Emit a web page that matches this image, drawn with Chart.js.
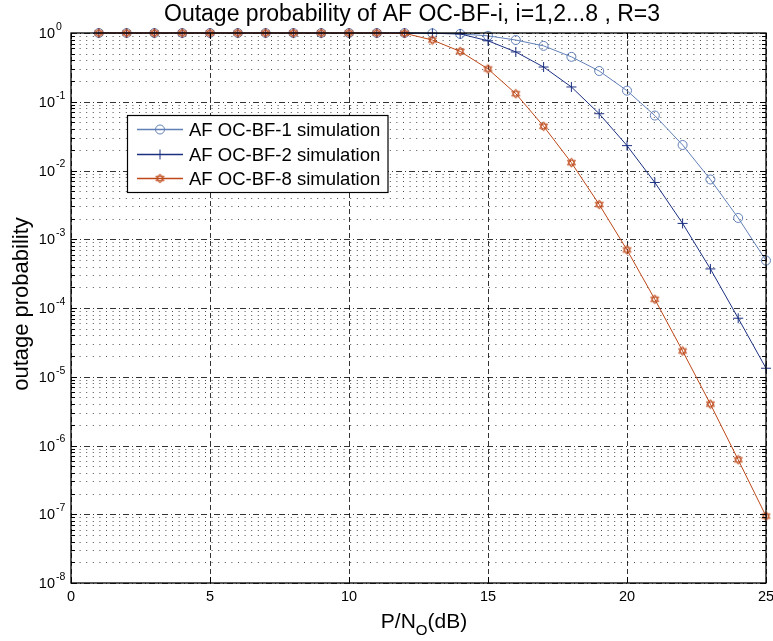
<!DOCTYPE html>
<html><head><meta charset="utf-8">
<script src="https://cdn.jsdelivr.net/npm/chart.js@4/dist/chart.umd.min.js"></script>
<style>html,body{margin:0;padding:0;background:#fff}#wrap{width:773px;height:641px;position:relative}</style>
</head><body><div id="wrap"><canvas id="c" width="773" height="641"></canvas></div>
<script>
// ---- data ----
const snrDb = [1,2,3,4,5,6,7,8,9,10,11,12,13,14,15,16,17,18,19,20,21,22,23,24,25];
const bf1 = [1,1,1,1,1,1,1,1,1,1,1,1,0.99,0.97,0.91,0.79,0.65,0.45,0.28,0.145,0.063,0.0235,0.0074,0.00204,0.00049];
const bf2 = [1,1,1,1,1,1,1,1,1,1,1,1,0.99,0.97,0.77,0.53,0.32,0.164,0.067,0.023,0.0067,0.0017,0.00037,7.1e-5,1.33e-5];
const bf8 = [1,1,1,1,1,1,1,1,1,1,1,0.99,0.79,0.54,0.30,0.131,0.044,0.013,0.0032,0.0007,1.34e-4,2.37e-5,4.0e-6,6.2e-7,9.4e-8];
const seriesNames = ['AF OC-BF-1 simulation','AF OC-BF-2 simulation','AF OC-BF-8 simulation'];
const xTicks = [0,5,10,15,20,25];
const yExponents = [0,-1,-2,-3,-4,-5,-6,-7,-8];
const titleText = 'Outage probability of AF OC-BF-i, i=1,2...8 , R=3';
const yLabel = 'outage probability';

const C1 = 'rgb(98,128,184)', C2 = 'rgb(28,48,130)', C3 = 'rgb(190,72,24)';
const FONT = '"Liberation Sans", Arial, sans-serif';

function makeHexagram(color){
  const cv = document.createElement('canvas'); cv.width = 11; cv.height = 11;
  const g = cv.getContext('2d'); const cx = 5.5, cy = 5.5, r = 4.6;
  g.strokeStyle = color; g.lineWidth = 1;
  for (const off of [-Math.PI/2, Math.PI/2]) {
    g.beginPath();
    for (let k=0;k<3;k++){ const a = off + k*2*Math.PI/3; const px = cx + r*Math.cos(a), py = cy + r*Math.sin(a); k?g.lineTo(px,py):g.moveTo(px,py); }
    g.closePath(); g.stroke();
  }
  return cv;
}
const hexStar = makeHexagram(C3);

const toPts = arr => arr.map((v,i)=>({x:snrDb[i], y:v}));

const customPlugin = {
  id:'matlabLook',
  beforeDatasetsDraw(chart){
    const {ctx, chartArea:a, scales:{x,y}} = chart;
    ctx.save();
    // minor y grid
    ctx.strokeStyle = 'rgba(60,60,60,0.9)'; ctx.lineWidth = 1; ctx.setLineDash([1,5.6]);
    for (let e=0;e>-8;e--) for (let m=2;m<=9;m++){
      const py = Math.round(y.getPixelForValue(m*Math.pow(10,e-1)))+0.5;
      ctx.beginPath(); ctx.moveTo(a.left+2,py); ctx.lineTo(a.right,py); ctx.stroke();
    }
    // major grid
    ctx.strokeStyle = 'rgba(0,0,0,0.8)'; ctx.setLineDash([6,3,1,3]);
    for (const e of yExponents){ const py = Math.round(y.getPixelForValue(Math.pow(10,e)))+0.5;
      ctx.beginPath(); ctx.moveTo(a.left,py); ctx.lineTo(a.right,py); ctx.stroke(); }
    ctx.setLineDash([5,3]);
    for (const t of xTicks){ const px = Math.round(x.getPixelForValue(t))+0.5;
      ctx.beginPath(); ctx.moveTo(px,a.top); ctx.lineTo(px,a.bottom); ctx.stroke(); }
    ctx.restore();
  },
  afterDraw(chart){
    const {ctx, chartArea:a, scales:{x,y}} = chart;
    ctx.save(); ctx.setLineDash([]);
    // box
    ctx.strokeStyle = '#000'; ctx.lineWidth = 1.3;
    ctx.strokeRect(a.left, a.top, a.right-a.left, a.bottom-a.top);
    ctx.lineWidth = 1;
    // ticks
    for (const t of xTicks){ const px = Math.round(x.getPixelForValue(t))+0.5;
      ctx.beginPath(); ctx.moveTo(px,a.bottom); ctx.lineTo(px,a.bottom-6); ctx.moveTo(px,a.top); ctx.lineTo(px,a.top+6); ctx.stroke(); }
    for (let e=0;e>-8;e--) for (let m=1;m<=9;m++){
      const py = Math.round(y.getPixelForValue(m*Math.pow(10,e-1)))+0.5; const L = m===1?6:4;
      ctx.beginPath(); ctx.moveTo(a.left,py); ctx.lineTo(a.left+L,py); ctx.moveTo(a.right,py); ctx.lineTo(a.right-L,py); ctx.stroke();
    }
    // tick labels
    ctx.fillStyle = '#000'; ctx.textBaseline = 'middle';
    ctx.font = '14.5px '+FONT; ctx.textAlign = 'center';
    for (const t of xTicks){ ctx.fillText(String(t), x.getPixelForValue(t), a.bottom+14); }
    for (const e of yExponents){
      const py = y.getPixelForValue(Math.pow(10,e));
      ctx.font = '14.5px '+FONT; ctx.textAlign = 'right'; ctx.fillText('10', 55, py+1);
      ctx.font = '10.5px '+FONT; ctx.textAlign = 'left'; ctx.fillText(String(e), 56, py-6);
    }
    // title
    ctx.textBaseline = 'alphabetic';
    ctx.font = '23px '+FONT; ctx.textAlign = 'center';
    ctx.fillText(titleText, 412, 21);
    // x label with subscript
    const p1 = 'P/N', p2 = 'O', p3 = '(dB)';
    ctx.font = '21px '+FONT; const w1 = ctx.measureText(p1).width, w3 = ctx.measureText(p3).width;
    ctx.font = '15px '+FONT; const w2 = ctx.measureText(p2).width;
    let sx = 424 - (w1+w2+w3)/2; const by = 628;
    ctx.textAlign = 'left';
    ctx.font = '21px '+FONT; ctx.fillText(p1, sx, by);
    ctx.font = '15px '+FONT; ctx.fillText(p2, sx+w1, by+7);
    ctx.font = '21px '+FONT; ctx.fillText(p3, sx+w1+w2, by);
    // y label
    ctx.save(); ctx.translate(28, 304); ctx.rotate(-Math.PI/2);
    ctx.textAlign = 'center'; ctx.font = '22px '+FONT; ctx.fillText(yLabel, 0, 0); ctx.restore();
    // legend
    const lx = 127.5, ly = 115.5, lw = 260.5, lh = 77;
    ctx.fillStyle = '#fff'; ctx.fillRect(lx,ly,lw,lh);
    ctx.strokeStyle = '#000'; ctx.lineWidth = 1.2; ctx.strokeRect(lx,ly,lw,lh);
    const cols = [C1,C2,C3];
    const rows = [129.5, 154.5, 178.5];
    chart.data.datasets.forEach((ds,i)=>{
      const ry = rows[i];
      ctx.strokeStyle = cols[i]; ctx.lineWidth = 1.3;
      ctx.beginPath(); ctx.moveTo(137, ry); ctx.lineTo(183, ry); ctx.stroke();
      const mx = 160; ctx.lineWidth = 1;
      if (i===0){ ctx.beginPath(); ctx.arc(mx, ry, 4.5, 0, Math.PI*2); ctx.stroke(); }
      else if (i===1){ ctx.beginPath(); ctx.moveTo(mx,ry-5); ctx.lineTo(mx,ry+5); ctx.stroke(); }
      else { ctx.drawImage(hexStar, mx-5.5, ry-5.5); }
      ctx.fillStyle = '#000'; ctx.font = '18.5px '+FONT; ctx.textAlign = 'left'; ctx.textBaseline='middle';
      ctx.fillText(seriesNames[i], 189, ry+1);
    });
    ctx.restore();
  }
};

new Chart(document.getElementById('c'), {
  type:'line',
  data:{ datasets:[
    {label:seriesNames[0], order:3, data:toPts(bf1), borderColor:C1, backgroundColor:'rgba(0,0,0,0)', borderWidth:1, pointStyle:'circle', pointRadius:4.5, pointBorderColor:C1, pointBorderWidth:1, pointBackgroundColor:'rgba(0,0,0,0)'},
    {label:seriesNames[1], order:2, data:toPts(bf2), borderColor:C2, backgroundColor:'rgba(0,0,0,0)', borderWidth:1, pointStyle:'cross', pointRadius:5, pointBorderColor:C2, pointBorderWidth:1},
    {label:seriesNames[2], order:1, data:toPts(bf8), borderColor:C3, backgroundColor:'rgba(0,0,0,0)', borderWidth:1, pointStyle:hexStar, pointRadius:5, pointBorderColor:C3}
  ]},
  options:{
    responsive:false, animation:false, devicePixelRatio:1,
    clip:false,
    layout:{padding:{left:71, right:7, top:33, bottom:58}},
    plugins:{legend:{display:false}, title:{display:false}, tooltip:{enabled:false}},
    elements:{line:{tension:0}},
    scales:{
      x:{type:'linear', min:0, max:25, display:true, grid:{display:false}, border:{display:false}, ticks:{display:false},
         afterFit(s){ s.height = 0; }},
      y:{type:'logarithmic', min:1e-8, max:1, display:true, grid:{display:false}, border:{display:false}, ticks:{display:false},
         afterFit(s){ s.width = 0; }}
    }
  },
  plugins:[customPlugin]
});
</script></body></html>
